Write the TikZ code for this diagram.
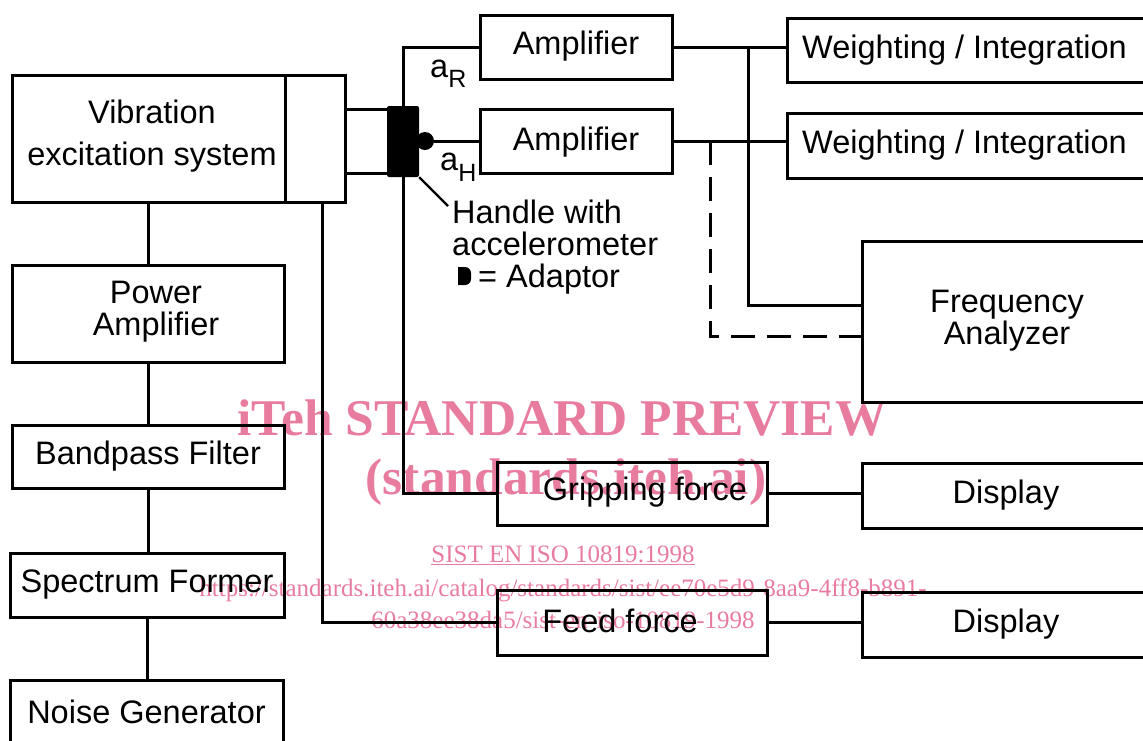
\documentclass[tikz,border=0pt]{standalone}
\usepackage{fontspec}
\setmainfont{Liberation Sans}
\newfontfamily\wmfont{Liberation Serif}
\definecolor{wmpink}{RGB}{232,124,158}
\tikzset{
  ln/.style={line width=3pt},
  box/.style={draw, line width=3pt, inner sep=0pt, align=center, font=\fontsize{32.5}{32}\selectfont},
  txt/.style={inner sep=0pt, align=center, font=\fontsize{32.5}{32}\selectfont},
  wm/.style={text=wmpink, inner sep=0pt},
}
\begin{document}
\begin{tikzpicture}[x=1pt,y=-1pt]
\clip (0,0) rectangle (1143,740);
% watermark
\node[wm, font=\wmfont\bfseries\fontsize{51.5}{51.5}\selectfont] (wm1) at (562,418) {iTeh STANDARD PREVIEW};
\node[wm, font=\wmfont\bfseries\fontsize{51.5}{51.5}\selectfont] (wm2) at (566,482) {(standards.iteh.ai)};
\node[wm, font=\wmfont\fontsize{25}{25}\selectfont] (wm3) at (563,555) {\underline{SIST EN ISO 10819:1998}};
\node[wm, font=\wmfont\fontsize{25}{25}\selectfont] (wm4) at (563,590) {https://standards.iteh.ai/catalog/standards/sist/ee70e5d9-8aa9-4ff8-b891-};
\node[wm, font=\wmfont\fontsize{25}{25}\selectfont] (wm5) at (563,620) {60a38ee38da5/sist-en-iso-10819-1998};

% left column
\node[box, minimum width=273pt, minimum height=127pt] (vibL) at (148.5,138.5) {};
\node[txt] (vibt) at (152,136) {Vibration\\[10pt]excitation system};
\node[box, minimum width=60pt, minimum height=127pt] (vibR) at (315,138.5) {};
\node[box, minimum width=272pt, minimum height=97pt] (pamp) at (148,313.5) {};
\node[txt] (pampt) at (156,312) {Power\\Amplifier};
\node[box, minimum width=272pt, minimum height=63pt] (bpf) at (148,456.5) {Bandpass Filter};
\node[box, minimum width=274pt, minimum height=64pt] (spf) at (147,585) {Spectrum Former};
\node[box, minimum width=273pt, minimum height=63pt] (noise) at (146.5,711.5) {Noise Generator};

% handle and adaptor
\node[fill, inner sep=0pt, minimum width=32pt, minimum height=71pt, rounded corners=2pt] (hb) at (403,141.5) {};
\node[circle, fill, inner sep=0pt, minimum size=18pt] (adp) at (425,141) {};

% amplifiers and weighting
\node[box, minimum width=192pt, minimum height=64pt] (amp1) at (576,47) {};
\node[txt] (amp1t) at (576,46) {Amplifier};
\node[box, minimum width=192pt, minimum height=64pt] (amp2) at (576,141) {};
\node[txt] (amp2t) at (576,142) {Amplifier};
\node[box, minimum width=373pt, minimum height=64pt] (w1) at (973.5,50) {};
\node[txt, anchor=west] (w1t) at (802,50) {Weighting / Integration};
\node[box, minimum width=373pt, minimum height=65pt] (w2) at (973.5,145.5) {};
\node[txt, anchor=west] (w2t) at (802,145) {Weighting / Integration};
\node[box, minimum width=298pt, minimum height=161pt] (fa) at (1011,321.5) {};
\node[txt] (fat) at (1007,321) {Frequency\\Analyzer};

% force channels
\node[box, minimum width=270pt, minimum height=63pt] (grip) at (632,493.5) {};
\node[txt] (gript) at (645,492) {Gripping force};
\node[box, minimum width=270pt, minimum height=65pt] (feed) at (632,622.5) {};
\node[txt] (feedt) at (620,621) {Feed force};
\node[box, minimum width=298pt, minimum height=65pt] (disp1) at (1011,495.5) {};
\node[txt] (disp1t) at (1006,495) {Display};
\node[box, minimum width=298pt, minimum height=65pt] (disp2) at (1011,624.5) {};
\node[txt] (disp2t) at (1006,624) {Display};

% labels
\node[txt, anchor=base west] (aR) at (430,77) {a\raisebox{-10pt}{\fontsize{25}{25}\selectfont R}};
\node[txt, anchor=base west] (aH) at (440,170) {a\raisebox{-11pt}{\fontsize{25}{25}\selectfont H}};
\node[txt, anchor=north west, align=left] (hw) at (452,200) {Handle with\\accelerometer\\\hspace{26pt}= Adaptor};
\fill (458,267) -- (464,267) [rounded corners=6pt] -- (471,267) -- (471,285) [sharp corners] -- (458,285) -- cycle;
\coordinate (lead) at (448,206);
\draw[line width=2.2pt] (hb.south east) -- (lead);

% connectors
\draw[ln] (vibR.east |- 0,109) -- (hb.west |- 0,109);
\draw[ln] (vibR.east |- 0,173) -- (hb.west |- 0,173);
\draw[ln] (hb.north) |- (amp1.west);
\draw[ln] (adp.east) -- (amp2.west);
\draw[ln] (hb.south) |- (grip.west);
\draw[ln] ([xshift=7pt]vibR.south) |- (feed.west);
\draw[ln] (vibL.south) -- (vibL.south |- pamp.north);
\draw[ln] (pamp.south) -- (pamp.south |- bpf.north);
\draw[ln] (bpf.south) -- (bpf.south |- spf.north);
\draw[ln] (spf.south) -- (spf.south |- noise.north);
\draw[ln] (amp1.east) -- (amp1.east -| w1.west);
\draw[ln] (amp2.east) -- (amp2.east -| w2.west);
\coordinate (j1) at (748,47);
\draw[ln] (j1) |- (fa.west |- 0,305);
\coordinate (j2) at (710,141);
\draw[ln, dash pattern=on 24pt off 12pt] (j2) |- (fa.west |- 0,336);
\draw[ln] (grip.east) -- (grip.east -| disp1.west);
\draw[ln] (feed.east) -- (feed.east -| disp2.west);
\end{tikzpicture}
\end{document}
